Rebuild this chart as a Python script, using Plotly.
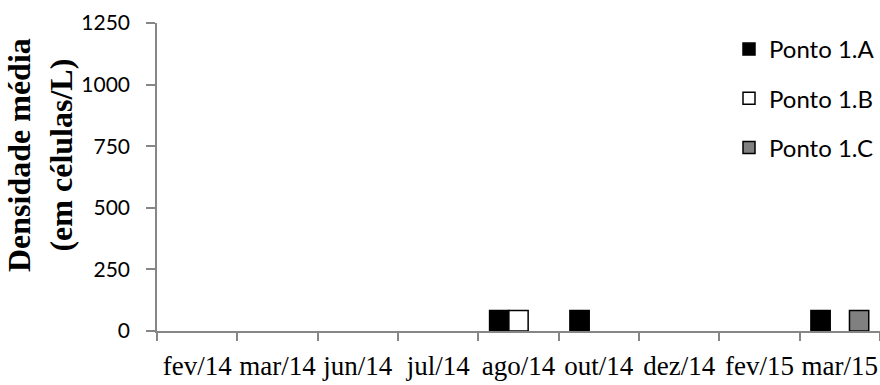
import plotly.graph_objects as go

# Sampling months
months = ["fev/14", "mar/14", "jun/14", "jul/14", "ago/14",
          "out/14", "dez/14", "fev/15", "mar/15"]

# Mean density (cells/L) per sampling point; None = no cells recorded
ponto_1a = [None, None, None, None, 83, 83, None, None, 83]
ponto_1b = [None, None, None, None, 83, None, None, None, None]
ponto_1c = [None, None, None, None, None, None, None, None, 83]

series = [
    ("Ponto 1.A", ponto_1a, "#000000"),
    ("Ponto 1.B", ponto_1b, "#ffffff"),
    ("Ponto 1.C", ponto_1c, "#808080"),
]

fig = go.Figure()
for i, (name, vals, color) in enumerate(series):
    fig.add_trace(go.Bar(
        x=months, y=vals, name=name,
        marker=dict(color=color, line=dict(color="#000000", width=1.5)),
        legendgroup=f"g{i}",
    ))

axis_gray = "#868686"
fig.update_layout(
    width=880, height=385,
    margin=dict(l=157, r=0, t=23, b=54, autoexpand=False),
    paper_bgcolor="white", plot_bgcolor="white",
    barmode="group", bargap=0.28, bargroupgap=0,
    showlegend=True,
    legend=dict(
        x=1.0, xanchor="right", y=0.987, yanchor="top",
        font=dict(family="Lato", size=24, color="#000000"),
        tracegroupgap=15, bgcolor="rgba(0,0,0,0)",
        itemwidth=30,
    ),
    xaxis=dict(
        type="category", tickson="boundaries", tickangle=0,
        showline=True, linecolor=axis_gray, linewidth=1.5,
        ticks="outside", ticklen=8, tickcolor=axis_gray, tickwidth=1.5,
        showgrid=False, automargin=False,
        ticklabelstandoff=10,
        tickfont=dict(family="Liberation Serif", size=27, color="#000000"),
    ),
    yaxis=dict(
        range=[0, 1250], tick0=0, dtick=250,
        showline=True, linecolor=axis_gray, linewidth=1.5,
        ticks="outside", ticklen=9, tickcolor=axis_gray, tickwidth=1.5,
        showgrid=False, zeroline=False, automargin=False,
        ticklabelstandoff=12,
        tickfont=dict(family="Lato", size=21, color="#000000"),
    ),
    annotations=[dict(
        text="<b>Densidade média<br>(em células/L)</b>",
        xref="paper", yref="paper",
        x=(40 - 157) / 723, y=(331 - 155) / 308,
        xanchor="center", yanchor="middle", textangle=-90,
        showarrow=False,
        font=dict(family="Liberation Serif", size=32, color="#000000"),
    )],
)

fig.write_html("out.html")
